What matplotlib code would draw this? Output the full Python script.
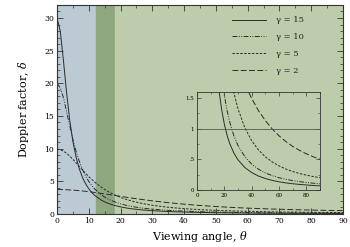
import matplotlib
matplotlib.use("Agg")
from matplotlib import pyplot as plt
from matplotlib.ticker import MultipleLocator, FuncFormatter

plt.rcParams['font.family'] = ['DejaVu Serif']
plt.rcParams['mathtext.fontset'] = 'dejavuserif'

# viewing angle (deg) and Doppler factor
theta = [0, 1, 2, 3, 4, 5, 6, 7, 8, 9, 10, 11, 12, 14, 15, 16, 18, 20, 22, 24, 25, 27,
         30, 35, 40, 45, 50, 55, 60, 65, 70, 75, 80, 85, 90]
d_g15 = [29.96, 28.05, 23.53, 18.56, 14.32, 11.07, 8.67, 6.90, 5.59, 4.60, 3.84, 3.24,
         2.77, 2.09, 1.84, 1.63, 1.31, 1.07, 0.89, 0.75, 0.70, 0.60,
         0.49, 0.365, 0.283, 0.226, 0.186, 0.156, 0.133, 0.115, 0.101, 0.090, 0.081, 0.073, 0.067]
d_g10 = [19.95, 19.36, 17.80, 15.68, 13.45, 11.37, 9.56, 8.05, 6.81, 5.79, 4.97, 4.29,
         3.74, 2.90, 2.57, 2.30, 1.87, 1.54, 1.29, 1.10, 1.02, 0.88,
         0.723, 0.541, 0.421, 0.337, 0.277, 0.233, 0.199, 0.173, 0.152, 0.135, 0.121, 0.110, 0.100]
d_g5 = [9.90, 9.83, 9.62, 9.28, 8.85, 8.36, 7.82, 7.27, 6.73, 6.20, 5.70, 5.24,
        4.81, 4.06, 3.73, 3.44, 2.94, 2.52, 2.19, 1.91, 1.79, 1.58,
        1.32, 1.013, 0.802, 0.651, 0.540, 0.457, 0.392, 0.341, 0.301, 0.268, 0.241, 0.219, 0.200]
d_g2 = [3.73, 3.73, 3.72, 3.70, 3.67, 3.64, 3.60, 3.56, 3.51, 3.46, 3.40, 3.34,
        3.27, 3.13, 3.06, 2.99, 2.84, 2.69, 2.54, 2.39, 2.32, 2.19,
        2.00, 1.72, 1.49, 1.29, 1.13, 0.994, 0.882, 0.789, 0.710, 0.645, 0.589, 0.541, 0.500]

labels = ["γ = 15", "γ = 10", "γ = 5", "γ = 2"]
series = [d_g15, d_g10, d_g5, d_g2]
styles = ['-', (0, (5, 1.5, 1, 1.5, 1, 1.5)), (0, (2.5, 1.5)), (0, (6, 2.5))]

# shaded angle ranges
blue_span = (0, 12.2)
dark_span = (12.2, 18.3)
light_span = (18.3, 90)

c_line = '#2b2b2b'

fig = plt.figure(figsize=(3.5, 2.47), dpi=100)
ax = fig.add_axes([0.163, 0.134, 0.817, 0.846])

ax.axvspan(*blue_span, color='#bccad3', zorder=0)
ax.axvspan(*dark_span, color='#8fa77f', zorder=0)
ax.axvspan(*light_span, color='#bdcdab', zorder=0)

for d, ls, lab in zip(series, styles, labels):
    ax.plot(theta, d, color=c_line, lw=0.7, linestyle=ls, label=lab)

ax.set_xlim(0, 90)
ax.set_ylim(0, 32)
ax.xaxis.set_major_locator(MultipleLocator(10))
ax.xaxis.set_minor_locator(MultipleLocator(5))
ax.yaxis.set_major_locator(MultipleLocator(5))
ax.yaxis.set_minor_locator(MultipleLocator(1))
ax.tick_params(which='both', direction='in', top=True, right=True, labelsize=5.5, pad=2, color='#333333')
ax.tick_params(which='major', length=4, width=0.6)
ax.tick_params(which='minor', length=2, width=0.5)
for s in ax.spines.values():
    s.set_linewidth(0.8)
    s.set_color('#333333')

ax.set_xlabel(r"Viewing angle, $\theta$", fontsize=8, labelpad=3)
ax.set_ylabel(r"Doppler factor, $\delta$", fontsize=8, labelpad=10)

leg = ax.legend(loc='upper right', frameon=False, fontsize=6, handlelength=4.0,
                handletextpad=1.3, labelspacing=1.05, borderaxespad=0.0, borderpad=0.0,
                bbox_to_anchor=(0.865, 0.945))
for t in leg.get_texts():
    t.set_color('#222222')

# inset
ins = fig.add_axes([0.563, 0.231, 0.351, 0.398])
ins.patch.set_alpha(0)
for d, ls in zip(series, styles):
    ins.plot(theta, d, color=c_line, lw=0.7, linestyle=ls)
ins.axhline(1, color='#555555', lw=0.6)
ins.set_xlim(0, 90)
ins.set_ylim(0, 1.6)
ins.xaxis.set_major_locator(MultipleLocator(20))
ins.xaxis.set_minor_locator(MultipleLocator(10))
ins.yaxis.set_major_locator(MultipleLocator(0.5))
ins.yaxis.set_minor_locator(MultipleLocator(0.25))
ins.yaxis.set_major_formatter(FuncFormatter(
    lambda v, p: '0' if v == 0 else ('1' if v == 1 else ('%g' % v).lstrip('0'))))
ins.tick_params(which='both', direction='in', top=True, right=True, labelsize=4, pad=2, color='#333333')
ins.tick_params(which='major', length=3, width=0.5)
ins.tick_params(which='minor', length=1.5, width=0.4)
for s in ins.spines.values():
    s.set_linewidth(0.6)
    s.set_color('#333333')

fig.savefig('out.png', dpi=100)
